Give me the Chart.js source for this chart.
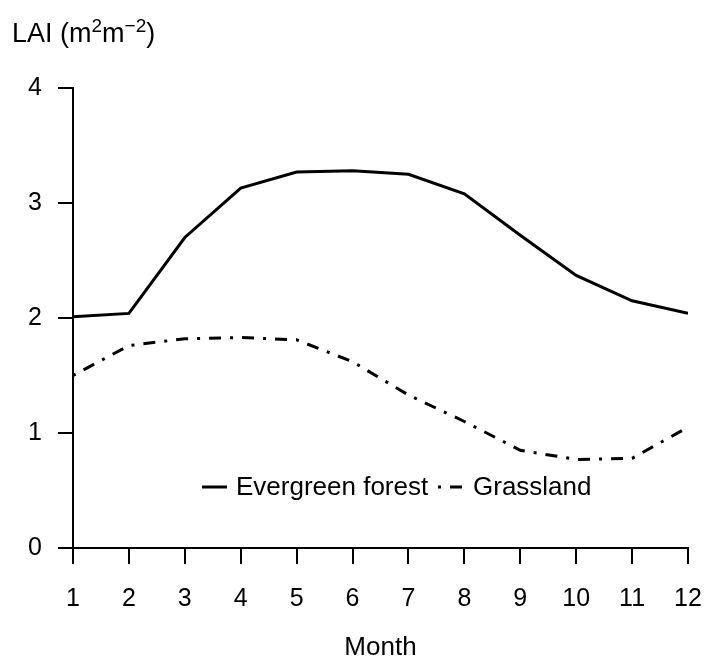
<!DOCTYPE html>
<html>
<head>
<meta charset="utf-8">
<script src="https://cdn.jsdelivr.net/npm/chart.js@4.4.0/dist/chart.umd.min.js"></script>
<style>
  html, body { margin: 0; padding: 0; background: #fff; }
  #wrap { width: 705px; height: 661px; position: relative; }
</style>
</head>
<body>
<div id="wrap"><canvas id="lai"></canvas></div>
<script>
// monthly LAI values
const months = [1, 2, 3, 4, 5, 6, 7, 8, 9, 10, 11, 12];
const evergreen = [2.01, 2.04, 2.70, 3.13, 3.27, 3.28, 3.25, 3.08, 2.72, 2.37, 2.15, 2.04];
const grassland = [1.50, 1.76, 1.82, 1.83, 1.81, 1.62, 1.33, 1.10, 0.85, 0.77, 0.78, 1.05];
const yTicks = [0, 1, 2, 3, 4];
const seriesNames = ['Evergreen forest', 'Grassland'];

const FONT = "'Liberation Sans', Arial, sans-serif";
const dotdash = [3, 9, 12, 9];

// y label with superscripts, and the in-plot legend (no box, like R)
const extras = {
    id: 'extras',
    afterDraw(chart) {
        const ctx = chart.ctx;
        ctx.save();
        ctx.fillStyle = '#000';
        ctx.textBaseline = 'alphabetic';
        ctx.textAlign = 'left';

        // LAI (m2 m-2)
        let x = 12, y = 42;
        const big = '27px ' + FONT, small = '19px ' + FONT;
        const parts = [['LAI (m', big, 0], ['2', small, -10], ['m', big, 0], ['\u22122', small, -10], [')', big, 0]];
        parts.forEach(p => {
            ctx.font = p[1];
            ctx.fillText(p[0], x, y + p[2]);
            x += ctx.measureText(p[0]).width;
        });

        // legend
        ctx.font = '26px ' + FONT;
        ctx.textBaseline = 'middle';
        ctx.lineWidth = 3;
        ctx.strokeStyle = '#000';
        const ly = 487;
        ctx.beginPath();
        ctx.moveTo(202, ly); ctx.lineTo(227, ly);
        ctx.stroke();
        ctx.fillText(seriesNames[0], 236, ly + 1);
        ctx.setLineDash(dotdash);
        ctx.beginPath();
        ctx.moveTo(438, ly); ctx.lineTo(464, ly);
        ctx.stroke();
        ctx.setLineDash([]);
        ctx.fillText(seriesNames[1], 473, ly + 1);
        ctx.restore();
    }
};

new Chart(document.getElementById('lai'), {
    type: 'line',
    data: {
        labels: months,
        datasets: [
            {
                label: seriesNames[0],
                data: months.map((m, i) => ({ x: m, y: evergreen[i] })),
                borderColor: '#000',
                borderWidth: 3,
                pointRadius: 0,
                tension: 0,
                fill: false
            },
            {
                label: seriesNames[1],
                data: months.map((m, i) => ({ x: m, y: grassland[i] })),
                borderColor: '#000',
                borderWidth: 3,
                borderDash: dotdash,
                pointRadius: 0,
                tension: 0,
                fill: false
            }
        ]
    },
    options: {
        responsive: true,
        maintainAspectRatio: false,
        animation: false,
        layout: { padding: { top: 88, right: 17, left: 0, bottom: 0 } },
        plugins: {
            legend: { display: false },
            tooltip: { enabled: false }
        },
        scales: {
            x: {
                type: 'linear',
                min: 1,
                max: 12,
                afterBuildTicks: (scale) => { scale.ticks = months.map(v => ({ value: v })); },
                afterFit: (scale) => {
                    scale.height = 113;
                    scale.paddingLeft = 0;
                    scale.paddingRight = 0;
                },
                border: { display: true, color: '#000', width: 2 },
                grid: { drawOnChartArea: false, drawTicks: true, tickLength: 16, color: '#000', lineWidth: 2 },
                ticks: { color: '#000', font: { family: FONT, size: 25 }, padding: 20, maxRotation: 0, autoSkip: false },
                title: { display: true, text: 'Month', color: '#000', font: { family: FONT, size: 26, lineHeight: 1.0 }, padding: { top: 0, bottom: 0 } }
            },
            y: {
                min: 0,
                max: 4,
                afterBuildTicks: (scale) => { scale.ticks = yTicks.map(v => ({ value: v })); },
                afterFit: (scale) => { scale.width = 73; },
                border: { display: true, color: '#000', width: 2 },
                grid: { drawOnChartArea: false, drawTicks: true, tickLength: 15, color: '#000', lineWidth: 2 },
                ticks: { color: '#000', font: { family: FONT, size: 25 }, padding: 16 }
            }
        }
    },
    plugins: [extras]
});
</script>
</body>
</html>
